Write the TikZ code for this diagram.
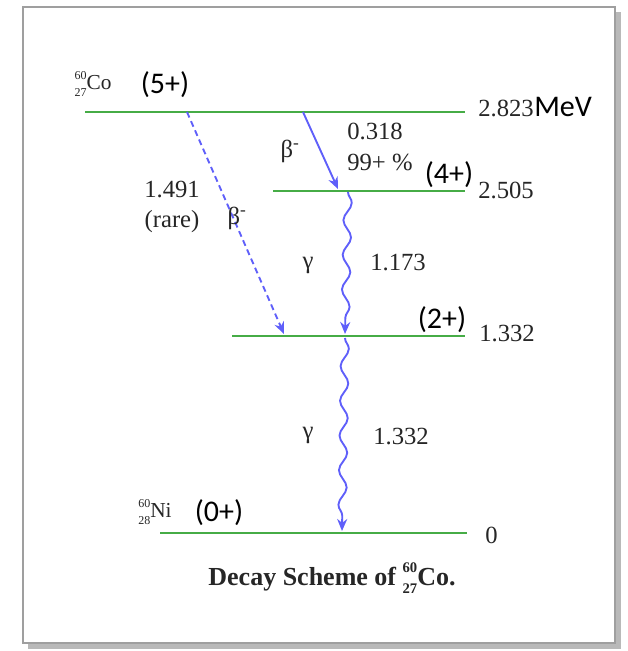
\documentclass[tikz,border=0pt]{standalone}
\usepackage{fontspec}
\setmainfont{Liberation Serif}
\newfontfamily\calibri{Carlito}
\usetikzlibrary{arrows.meta,decorations.pathmorphing}

\definecolor{lvlgreen}{RGB}{70,172,70}
\definecolor{rayblue}{RGB}{95,95,250}
\newcommand{\iso}[4]{{\fontsize{#4}{#4}\selectfont\makebox[0pt][l]{\raisebox{0.85em}{#1}}\raisebox{-0.6em}{#2}}#3}

\begin{document}
\begin{tikzpicture}[x=0.75pt, y=-0.75pt,
  lvl/.style={draw=lvlgreen, line width=2.2pt},
  val/.style={font=\fontsize{18.5}{23}\selectfont, text=black!85, inner sep=0pt},
  spin/.style={font=\calibri\fontsize{22.5}{24}\selectfont, inner sep=0pt},
  ray/.style={draw=rayblue, line width=1.4pt, -{Stealth[length=9pt, width=7.5pt]}},
  beta/.style={ray},
  rare/.style={ray, dash pattern=on 4.5pt off 3pt},
  gam/.style={ray, decorate, decoration={snake, amplitude=3pt, segment length=26pt, post length=10pt}}
]
  \useasboundingbox (0,0) rectangle (628,651);
  % frame with shadow
  \fill[gray!55] (28,12) rectangle (621,649);
  \draw[gray!75, line width=1.5pt, fill=white] (23,7) rectangle (615,643);

  % levels
  \coordinate (lA-l) at (85,112);  \coordinate (lA-r) at (465,112);
  \coordinate (lB-l) at (273,191); \coordinate (lB-r) at (465,191);
  \coordinate (lC-l) at (232,336); \coordinate (lC-r) at (465,336);
  \coordinate (lD-l) at (160,533); \coordinate (lD-r) at (467,533);
  \draw[lvl] (lA-l) -- (lA-r);
  \draw[lvl] (lB-l) -- (lB-r);
  \draw[lvl] (lC-l) -- (lC-r);
  \draw[lvl] (lD-l) -- (lD-r);

  % energies
  \node[val, anchor=west] (eA) at (478,108) {2.823};
  \node[spin, anchor=base west] (mev) at (eA.base east) {MeV};
  \node[val, anchor=west] (eB) at (478,190) {2.505};
  \node[val, anchor=west] (eC) at (479,334) {1.332};
  \node[val, anchor=west] (eD) at (485,535) {0};

  % spins
  \node[spin] (sA) at (165,85) {(5+)};
  \node[spin] (sB) at (449,175) {(4+)};
  \node[spin] (sC) at (442,320) {(2+)};
  \node[spin] (sD) at (219,513) {(0+)};

  % nuclides
  \node[val, font=\fontsize{16}{17}\selectfont] (co) at (93,84) {\iso{60}{27}{Co}{9}};
  \node[val, font=\fontsize{16}{17}\selectfont] (ni) at (155,512) {\iso{60}{28}{Ni}{9}};

  % transitions
  \coordinate (bA-s) at (187,112); \coordinate (bA-e) at (284,334);
  \coordinate (bB-s) at (303,112); \coordinate (bB-e) at (338,189);
  \coordinate (gA-s) at (348,192); \coordinate (gA-e) at (345,334);
  \coordinate (gB-s) at (345,338); \coordinate (gB-e) at (342,531);
  \draw[rare] (bA-s) -- (bA-e);
  \draw[beta] (bB-s) -- (bB-e);
  \draw[gam] (gA-s) -- (gA-e);
  \draw[gam] (gB-s) -- (gB-e);

  \node[val] (bAl) at (237,218) {β\textsuperscript{-}};
  \node[val] (bAv) at (172,207) [align=center] {1.491\\(rare)};
  \node[val] (bBl) at (290,151) {β\textsuperscript{-}};
  \node[val, anchor=west] (bBv) at (347,147) [align=left] {0.318\\99+ \%};
  \node[val] (gAl) at (308,265) {γ};
  \node[val] (gAv) at (398,263) {1.173};
  \node[val] (gBl) at (308,435) {γ};
  \node[val] (gBv) at (401,437) {1.332};

  % caption
  \node[val, anchor=base, font=\bfseries\fontsize{19.5}{21}\selectfont] (cap) at (332,585)
    {Decay Scheme of\ \iso{60}{27}{Co.}{11}};
\end{tikzpicture}
\end{document}
